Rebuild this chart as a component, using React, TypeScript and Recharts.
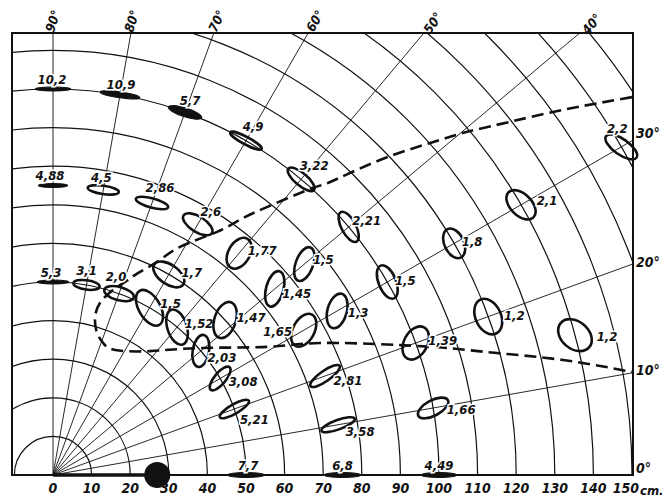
import React from "react";
import { ComposedChart, Scatter, XAxis, YAxis, ReferenceArea } from "recharts";

// layout
const W = 663;
const H = 491;
const MARGIN = { top: 25, right: 38, bottom: 0, left: 4 };
const AXIS_H = 24;
const PX = 3.86; // px per cm, same on both axes
const PLOT_W = W - MARGIN.left - MARGIN.right;
const PLOT_H = H - MARGIN.top - MARGIN.bottom - AXIS_H;
const X_MIN = -41 / PX;
const X_MAX = X_MIN + PLOT_W / PX;
const Y_MAX = PLOT_H / PX;

const FONT = "'DejaVu Sans Condensed','Liberation Sans Narrow','DejaVu Sans',sans-serif";
const INK = "#111";

// grid
const rings = [10, 20, 30, 40, 50, 60, 70, 80, 90, 100, 110, 120, 130, 140, 150, 160, 170, 180];
const spokes = [0, 10, 20, 30, 40, 50, 60, 70, 80, 90];
const xTicks = [0, 10, 20, 30, 40, 50, 60, 70, 80, 90, 100, 110, 120, 130, 140, 150];
const topAngles = [90, 80, 70, 60, 50, 40];
const sideAngles = [30, 20, 10, 0];

// measured spots: radius (cm), angle (deg), value
const spotR = [100, 100, 100, 100, 100, 100, 120, 140, 170, 75, 75, 75, 75, 75, 85, 75, 85, 100, 120, 140, 50, 50, 50, 60, 50, 50, 60, 75, 50, 50, 50, 75, 75, 100, 100, 50, 75, 100];
const spotDeg = [90, 80, 70, 60, 50, 40, 30, 30, 30, 90, 80, 70, 60, 50, 40, 40, 30, 30, 20, 15, 90, 80, 70, 60, 60, 50, 42, 30, 40, 30, 20, 20, 10, 20, 10, 0, 0, 0];
const spotLabel = ["10,2", "10,9", "5,7", "4,9", "3,22", "2,21", "1,8", "2,1", "2,2", "4,88", "4,5", "2,86", "2,6", "1,77", "1,5", "1,45", "1,3", "1,5", "1,2", "1,2", "5,3", "3,1", "2,0", "1,7", "1,5", "1,52", "1,47", "1,65", "2,03", "3,08", "5,21", "2,81", "3,58", "1,39", "1,66", "7,7", "6,8", "4,49"];

// source position on the axis (cm)
const sourceX = [27];

// dashed boundary (cm)
const curveX = [150.0, 132.1, 118.4, 107.3, 97.7, 84.7, 71.8, 67.4, 55.4, 48.4, 42.5, 32.9, 27.7, 22.0, 19.4, 15.5, 12.2, 10.9, 11.4, 13.0, 16.1, 25.1, 38.1, 55.4, 69.2, 89.1, 102.1, 115.0, 132.1, 150.0];
const curveY = [97.9, 94.6, 91.5, 88.9, 86.0, 81.6, 75.9, 74.4, 69.4, 66.1, 63.0, 59.1, 55.7, 52.3, 50.5, 47.9, 44.6, 40.9, 36.8, 34.2, 32.4, 32.1, 32.9, 33.2, 34.2, 33.7, 32.9, 31.6, 29.8, 26.7];

// styles: ellipse w, h, rotation, label dx, dy (px)
const spotStyle = [
  [36, 4, 0, -1, -10], [40, 6, 8, 1, -10], [35, 9, 18, 5, -12], [38, 10, 28, 7, -14],
  [36, 15, 40, 13, -14], [36, 17, 62, 18, -6], [34, 22, 65, 18, -2], [38, 24, 45, 26, -4],
  [40, 18, 35, -4, -18], [30, 4, 0, -3, -10], [34, 11, 8, -2, -12], [36, 12, 15, 8, -15],
  [36, 18, 32, 13, -13], [36, 24, -60, 23, -3], [38, 20, -70, 19, -5], [39, 20, -75, 22, 5],
  [38, 22, -75, 21, 2], [38, 20, 68, 18, -2], [40, 28, 65, 26, -1], [40, 30, 40, 32, 1],
  [32, 4, 0, -2, -10], [29, 12, 8, 0, -14], [33, 16, 15, -3, -17], [38, 22, 35, 23, -2],
  [42, 24, 60, 21, -4], [39, 22, 72, 22, -4], [40, 24, -72, 26, -3], [38, 24, -62, -26, 1],
  [35, 19, -80, 21, 7], [32, 14, -50, 23, 3], [36, 12, -30, 20, 11], [38, 13, -35, 23, 5],
  [38, 12, -20, 22, 7], [38, 26, -62, 27, -2], [36, 18, -28, 28, 2], [37, 5, 0, 2, -10],
  [37, 5, 0, 0, -10], [36, 5, 0, 0, -10],
];
const solidSpots = [0, 1, 2, 9, 20, 35, 36, 37];
const topLabelStyle = [[0, -12, -72], [1, -12, -72], [3, -12, -65], [7, -12, -60], [9, -10, -55], [12, -9, -50]];
const sideLabelDy = [-7, -2, -3, -7];

const rad = (d: number) => (d * Math.PI) / 180;

const spokeEnd = (deg: number) => {
  if (deg === 90) return { x: 0, y: Y_MAX };
  const yr = X_MAX * Math.tan(rad(deg));
  if (yr <= Y_MAX) return { x: X_MAX, y: yr };
  return { x: Y_MAX / Math.tan(rad(deg)), y: Y_MAX };
};

const spots = spotR.map((r, i) => ({
  x: r * Math.cos(rad(spotDeg[i])),
  y: r * Math.sin(rad(spotDeg[i])),
  i,
}));
const curve = curveX.map((x, i) => ({ x, y: curveY[i] }));
const ringData = rings.map((r) => ({ x: 0, y: 0, r }));
const topData = topAngles.map((a, i) => ({ ...spokeEnd(a), a, i }));
const sideData = sideAngles.map((a, i) => ({ ...spokeEnd(a), a, i }));

const Empty = () => <g />;

const RingShape = (props: any) => {
  const { cx, cy, payload } = props;
  const left = cx + X_MIN * PX;
  const top = cy - Y_MAX * PX;
  return (
    <g>
      {payload.r === rings[0] && (
        <defs>
          <clipPath id="frameClip">
            <rect x={left} y={top} width={PLOT_W} height={PLOT_H} />
          </clipPath>
        </defs>
      )}
      <circle cx={cx} cy={cy} r={payload.r * PX} fill="none" stroke={INK} strokeWidth={1.2} clipPath="url(#frameClip)" />
    </g>
  );
};

const SpotShape = (props: any) => {
  const { cx, cy, payload } = props;
  const [w, h, rot, dx, dy] = spotStyle[payload.i];
  const solid = solidSpots.includes(payload.i);
  return (
    <g>
      <ellipse
        cx={cx}
        cy={cy}
        rx={solid ? w / 2 : w / 2 - 1.3}
        ry={solid ? h / 2 : h / 2 - 1.3}
        transform={`rotate(${rot} ${cx} ${cy})`}
        fill={solid ? INK : "none"}
        stroke={INK}
        strokeWidth={solid ? 1 : 2.6}
      />
      <text
        x={cx + dx}
        y={cy + dy}
        textAnchor="middle"
        dominantBaseline="central"
        fontFamily={FONT}
        fontStyle="italic"
        fontWeight="bold"
        fontSize={13}
        fill={INK}
        stroke="#fff"
        strokeWidth={3}
        paintOrder="stroke"
      >
        {spotLabel[payload.i]}
      </text>
    </g>
  );
};

const TopLabel = (props: any) => {
  const { cx, cy, payload } = props;
  const [dx, dy, rot] = topLabelStyle[payload.i];
  const x = cx + dx;
  const y = cy + dy;
  return (
    <text x={x} y={y} textAnchor="middle" dominantBaseline="central" transform={`rotate(${rot} ${x} ${y})`}
      fontFamily={FONT} fontStyle="italic" fontWeight="bold" fontSize={13} fill={INK}>
      {payload.a}°
    </text>
  );
};

const SideLabel = (props: any) => {
  const { cx, cy, payload } = props;
  return (
    <text x={cx + 3} y={cy + sideLabelDy[payload.i]} dominantBaseline="central"
      fontFamily={FONT} fontStyle="italic" fontWeight="bold" fontSize={14} fill={INK}>
      {payload.a}°
    </text>
  );
};

const SourceShape = (props: any) => <circle cx={props.cx} cy={props.cy} r={13} fill={INK} />;

const XTick = (props: any) => {
  const { x, y, payload } = props;
  const last = payload.value === xTicks[xTicks.length - 1];
  const common = {
    y: y + 13,
    dominantBaseline: "central",
    fontFamily: FONT,
    fontStyle: "italic",
    fontWeight: "bold",
    fontSize: 14,
    fill: INK,
  } as any;
  return (
    <g>
      <text x={last ? x - 6 : x} textAnchor="middle" {...common}>
        {payload.value}
      </text>
      {last && (
        <text x={x + 8} y={y + 15} textAnchor="start" dominantBaseline="central" fontFamily={FONT}
          fontStyle="italic" fontWeight="bold" fontSize={13} fill={INK}>
          cm.
        </text>
      )}
    </g>
  );
};

export default function App() {
  return (
    <div style={{ width: W, height: H, background: "#fff" }}>
      <ComposedChart width={W} height={H} margin={MARGIN}>
        <XAxis type="number" dataKey="x" domain={[X_MIN, X_MAX]} ticks={xTicks} interval={0}
          axisLine={false} tickLine={false} tickSize={0} tickMargin={0} height={AXIS_H} tick={<XTick />} />
        <YAxis type="number" dataKey="y" domain={[0, Y_MAX]} hide />
        <Scatter data={ringData} shape={RingShape} isAnimationActive={false} />
        {spokes.map((a) => (
          <Scatter key={a} data={[{ x: 0, y: 0 }, spokeEnd(a)]} shape={Empty}
            line={{ stroke: INK, strokeWidth: 0.9 }} isAnimationActive={false} />
        ))}
        <Scatter data={[{ x: 0, y: 0 }, { x: sourceX[0], y: 0 }]} shape={Empty}
          line={{ stroke: INK, strokeWidth: 3.5 }} isAnimationActive={false} />
        <Scatter data={curve} shape={Empty} lineJointType="natural"
          line={{ stroke: INK, strokeWidth: 2.6, strokeDasharray: "12 6", fill: "none" }} isAnimationActive={false} />
        <ReferenceArea x1={X_MIN} x2={X_MAX} y1={0} y2={Y_MAX} fill="none" stroke={INK} strokeWidth={2} ifOverflow="visible" />
        <Scatter data={spots} shape={SpotShape} isAnimationActive={false} />
        <Scatter data={sourceX.map((x) => ({ x, y: 0 }))} shape={SourceShape} isAnimationActive={false} />
        <Scatter data={topData} shape={TopLabel} isAnimationActive={false} />
        <Scatter data={sideData} shape={SideLabel} isAnimationActive={false} />
      </ComposedChart>
    </div>
  );
}
